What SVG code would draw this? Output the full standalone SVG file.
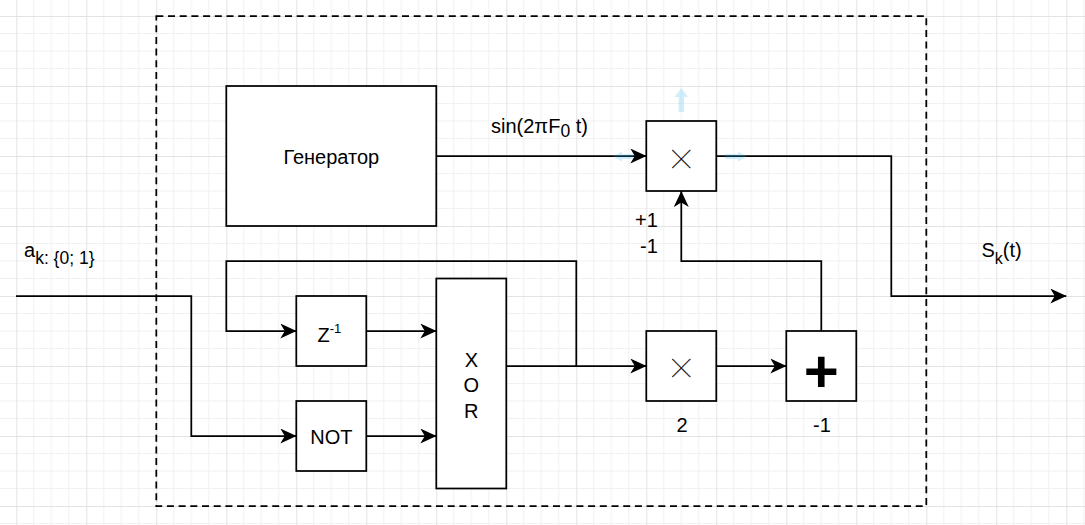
<svg xmlns="http://www.w3.org/2000/svg" width="1085" height="525" viewBox="0 0 1085 525">
  <defs>
    <style>
      .box { fill: #ffffff; stroke: #000000; stroke-width: 1.75; }
      .frame { fill: none; stroke: #000000; stroke-width: 1.75; stroke-dasharray: 7 4.7; }
      .wire { fill: none; stroke: #000000; stroke-width: 1.75; }
      .lbl { font-family: "Liberation Sans", Arial, sans-serif; font-size: 20px; fill: #000000; }
      .mid { text-anchor: middle; }
      .times { font-family: "Noto Sans CJK SC", "DejaVu Sans", sans-serif; font-size: 18px; fill: #000000; stroke: #000000; stroke-width: 0.35; text-anchor: middle; }
      .plus { font-family: "Liberation Sans", Arial, sans-serif; font-size: 60px; font-weight: bold; fill: #000000; text-anchor: middle; }
      .hint { fill: #29b6f2; opacity: 0.22; }
      .minor { stroke: #f1f1f1; stroke-width: 1; }
      .major { stroke: #e3e3e3; stroke-width: 1; }
    </style>
    <pattern id="grid" patternUnits="userSpaceOnUse" x="16.3" y="16" width="70" height="70">
      <line class="minor" x1="17.5" y1="0" x2="17.5" y2="70"/>
      <line class="minor" x1="35" y1="0" x2="35" y2="70"/>
      <line class="minor" x1="52.5" y1="0" x2="52.5" y2="70"/>
      <line class="minor" x1="0" y1="17.5" x2="70" y2="17.5"/>
      <line class="minor" x1="0" y1="35" x2="70" y2="35"/>
      <line class="minor" x1="0" y1="52.5" x2="70" y2="52.5"/>
      <line class="major" x1="0.5" y1="0" x2="0.5" y2="70"/>
      <line class="major" x1="0" y1="0.5" x2="70" y2="0.5"/>
    </pattern>
    <marker id="arrow" markerUnits="userSpaceOnUse" viewBox="0 0 16 15" refX="16" refY="7.5" markerWidth="16" markerHeight="15" orient="auto">
      <path d="M0,0 L16,7.5 L0,15 L4.5,7.5 Z" fill="#000000"/>
    </marker>
  </defs>

  <!-- background and grid -->
  <rect x="0" y="0" width="1085" height="525" fill="#ffffff"/>
  <rect x="0" y="0" width="1085" height="525" fill="url(#grid)"/>

  <!-- dashed system boundary -->
  <rect id="boundary" class="frame" x="156.3" y="16" width="770" height="490"/>

  <!-- connectors -->
  <g id="connectors">
    <polyline class="wire" points="16,296 191.3,296 191.3,436 296.3,436" marker-end="url(#arrow)"/>
    <polyline class="wire" points="576.3,366 576.3,261 226.3,261 226.3,331 296.3,331" marker-end="url(#arrow)"/>
    <line class="wire" x1="366.3" y1="331" x2="436.3" y2="331" marker-end="url(#arrow)"/>
    <line class="wire" x1="366.3" y1="436" x2="436.3" y2="436" marker-end="url(#arrow)"/>
    <line class="wire" x1="506.3" y1="366" x2="646.3" y2="366" marker-end="url(#arrow)"/>
    <line class="wire" x1="716.3" y1="366" x2="786.3" y2="366" marker-end="url(#arrow)"/>
    <polyline class="wire" points="821.3,331 821.3,261 681.3,261 681.3,191" marker-end="url(#arrow)"/>
    <line class="wire" x1="436.3" y1="156" x2="646.3" y2="156" marker-end="url(#arrow)"/>
    <polyline class="wire" points="716.3,156 891.3,156 891.3,296 1066.3,296" marker-end="url(#arrow)"/>
  </g>

  <!-- faint direction hints around the output multiplier -->
  <g id="hints">
    <path class="hint" d="M681.3,88 L688,97 L684,97 L684,112 L678.6,112 L678.6,97 L674.6,97 Z"/>
    <path class="hint" d="M613,156.5 L622,151.5 L622,154 L633,154 L633,159 L622,159 L622,161.5 Z"/>
    <path class="hint" d="M747,156.5 L738,151.5 L738,154 L725,154 L725,159 L738,159 L738,161.5 Z"/>
  </g>

  <!-- signal generator -->
  <g id="generator">
    <rect class="box" x="226.3" y="86" width="210" height="140"/>
    <text class="lbl mid" x="331.3" y="164">Генератор</text>
  </g>

  <!-- output multiplier -->
  <g id="mult-out">
    <rect class="box" x="646.3" y="121" width="70" height="70"/>
    <text class="times" x="681.3" y="165.8">╳</text>
  </g>

  <!-- delay element -->
  <g id="delay">
    <rect class="box" x="296.3" y="296" width="70" height="70"/>
    <text class="lbl" x="317.5" y="341.5" font-size="21">Z<tspan font-size="13" dy="-9">-1</tspan></text>
  </g>

  <!-- inverter -->
  <g id="inverter">
    <rect class="box" x="296.3" y="401" width="70" height="70"/>
    <text class="lbl mid" x="331.3" y="444">NOT</text>
  </g>

  <!-- exclusive or -->
  <g id="xor">
    <rect class="box" x="436.3" y="278.5" width="70" height="210"/>
    <text class="lbl mid" x="471.3" y="366.5">X</text>
    <text class="lbl mid" x="471.3" y="391.5">O</text>
    <text class="lbl mid" x="471.3" y="418.3">R</text>
  </g>

  <!-- scale by two -->
  <g id="mult-two">
    <rect class="box" x="646.3" y="331" width="70" height="70"/>
    <text class="times" x="681.3" y="374.5">╳</text>
    <text class="lbl mid" x="682" y="431.5">2</text>
  </g>

  <!-- offset adder -->
  <g id="adder">
    <rect class="box" x="786.3" y="331" width="70" height="70"/>
    <text class="plus" x="821.3" y="391.5">+</text>
    <text class="lbl mid" x="822" y="431.5">-1</text>
  </g>

  <!-- signal labels -->
  <g id="labels">
    <text class="lbl" x="24" y="257">a<tspan font-size="17.5" dy="6.5">k: {0; 1}</tspan></text>
    <text class="lbl" x="491" y="132.7" font-size="20.5">sin(2πF<tspan font-size="17.5" dy="4">0</tspan><tspan dy="-4"> t)</tspan></text>
    <text class="lbl" x="635" y="227">+1</text>
    <text class="lbl" x="640" y="253">-1</text>
    <text class="lbl" x="981.5" y="257">S<tspan font-size="16" dy="6.5">k</tspan><tspan dy="-6.5">(t)</tspan></text>
  </g>
</svg>
